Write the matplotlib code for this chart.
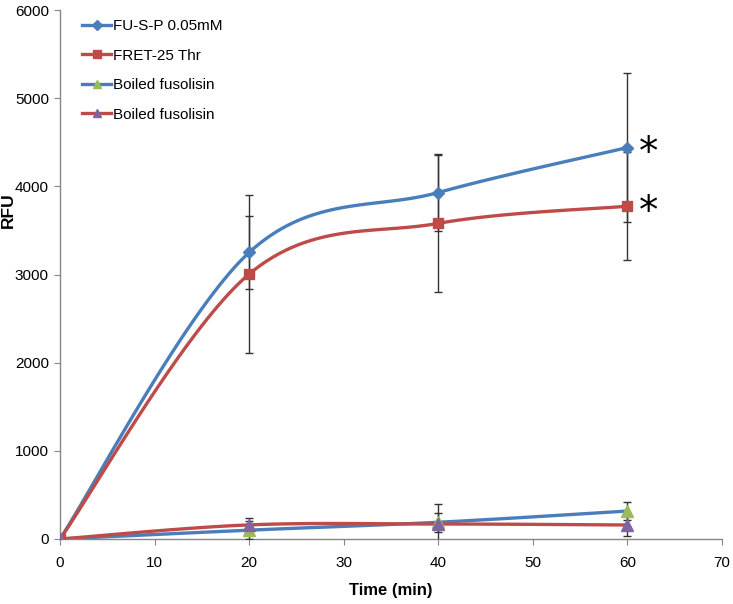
import numpy as np
import matplotlib
matplotlib.use("Agg")
import matplotlib.pyplot as plt
from matplotlib.lines import Line2D

plt.rcParams['font.family'] = ['Liberation Sans', 'DejaVu Sans']

time = [0, 20, 40, 60]
fusp = [0, 3250, 3930, 4440]
fusp_err = [0, 415, 440, 850]
fret = [0, 3005, 3580, 3775]
fret_err = [0, 895, 780, 610]
boiled_a = [0, 100, 190, 317]
boiled_a_err = [0, 100, 110, 105]
boiled_b = [0, 160, 170, 159]
boiled_b_err = [0, 80, 230, 125]
labels = ["FU-S-P 0.05mM", "FRET-25 Thr", "Boiled fusolisin", "Boiled fusolisin"]

BLUE = "#4A7EBB"
RED = "#BE4B48"
GREEN = "#9BBB59"
PURPLE = "#8064A2"
GRAY = "#868686"


def smooth(x, y, n=40):
    # excel-like smoothed line: catmull-rom segments as cubic bezier
    p = np.column_stack([x, y]).astype(float)
    p = np.vstack([p[0], p, p[-1]])
    out = []
    t = np.linspace(0, 1, n)[:, None]
    for i in range(1, len(p) - 2):
        p0, p1 = p[i], p[i + 1]
        c1 = p0 + (p[i + 1] - p[i - 1]) / 6
        c2 = p1 - (p[i + 2] - p[i]) / 6
        seg = ((1 - t) ** 3) * p0 + 3 * ((1 - t) ** 2) * t * c1 + 3 * (1 - t) * t ** 2 * c2 + t ** 3 * p1
        out.append(seg if i == 1 else seg[1:])
    out = np.vstack(out)
    return out[:, 0], out[:, 1]


fig = plt.figure(figsize=(7.33, 6.04), dpi=100)
ax = fig.add_axes([60 / 733, 65 / 604, 662 / 733, 529 / 604])

series = [
    (fusp, fusp_err, BLUE, 'D', BLUE, 6),
    (fret, fret_err, RED, 's', RED, 7.5),
    (boiled_a, boiled_a_err, BLUE, '^', GREEN, 8),
    (boiled_b, boiled_b_err, RED, '^', PURPLE, 8),
]
handles = []
for (vals, err, lc, mk, mc, ms), lab in zip(series, labels):
    sx, sy = smooth(time, vals)
    ax.plot(sx, sy, color=lc, lw=2.4, zorder=2, solid_capstyle='round')
    ax.errorbar(time[1:], vals[1:], yerr=err[1:], fmt='none', ecolor='#333333',
                elinewidth=1, capsize=3, capthick=1, zorder=3)
    ax.plot(time, vals, ls='none', marker=mk, ms=ms, mfc=mc, mec=mc, zorder=4)
    handles.append(Line2D([], [], color=lc, lw=2.4, marker=mk, ms=ms * 0.8, mfc=mc, mec=mc))

# significance marks
for vals in (fusp, fret):
    ax.annotate("*", (time[-1], vals[-1]), xytext=(15, -4), textcoords='offset points',
                fontsize=28, ha='center', va='center', family='DejaVu Sans')

ax.set_xlim(0, 70)
ax.set_ylim(0, 6000)
ax.set_xticks(range(0, 71, 10))
ax.set_yticks(range(0, 6001, 1000))
for s in ['top', 'right']:
    ax.spines[s].set_visible(False)
for s in ['left', 'bottom']:
    ax.spines[s].set_color(GRAY)
    ax.spines[s].set_linewidth(1)
ax.tick_params(colors=GRAY, labelcolor='black', labelsize=11, length=4, direction='out')
ax.tick_params(axis='x', pad=8)
ax.tick_params(axis='y', pad=4)
ax.set_xlabel("Time (min)", fontsize=12, fontweight='bold')
ax.set_ylabel("RFU", fontsize=12.5, fontweight='bold')
ax.xaxis.set_label_coords(0.5, -44 / 529)
ax.yaxis.set_label_coords(-44 / 662, (539 - 210) / 529)

ax.legend(handles, labels, loc='upper left', bbox_to_anchor=(82 / 733, 1 - 19 / 604),
          bbox_transform=fig.transFigure, frameon=False, fontsize=11,
          handlelength=1.9, handletextpad=0.1, labelspacing=1.02, borderpad=0, borderaxespad=0)

fig.savefig("out.png", dpi=100)
